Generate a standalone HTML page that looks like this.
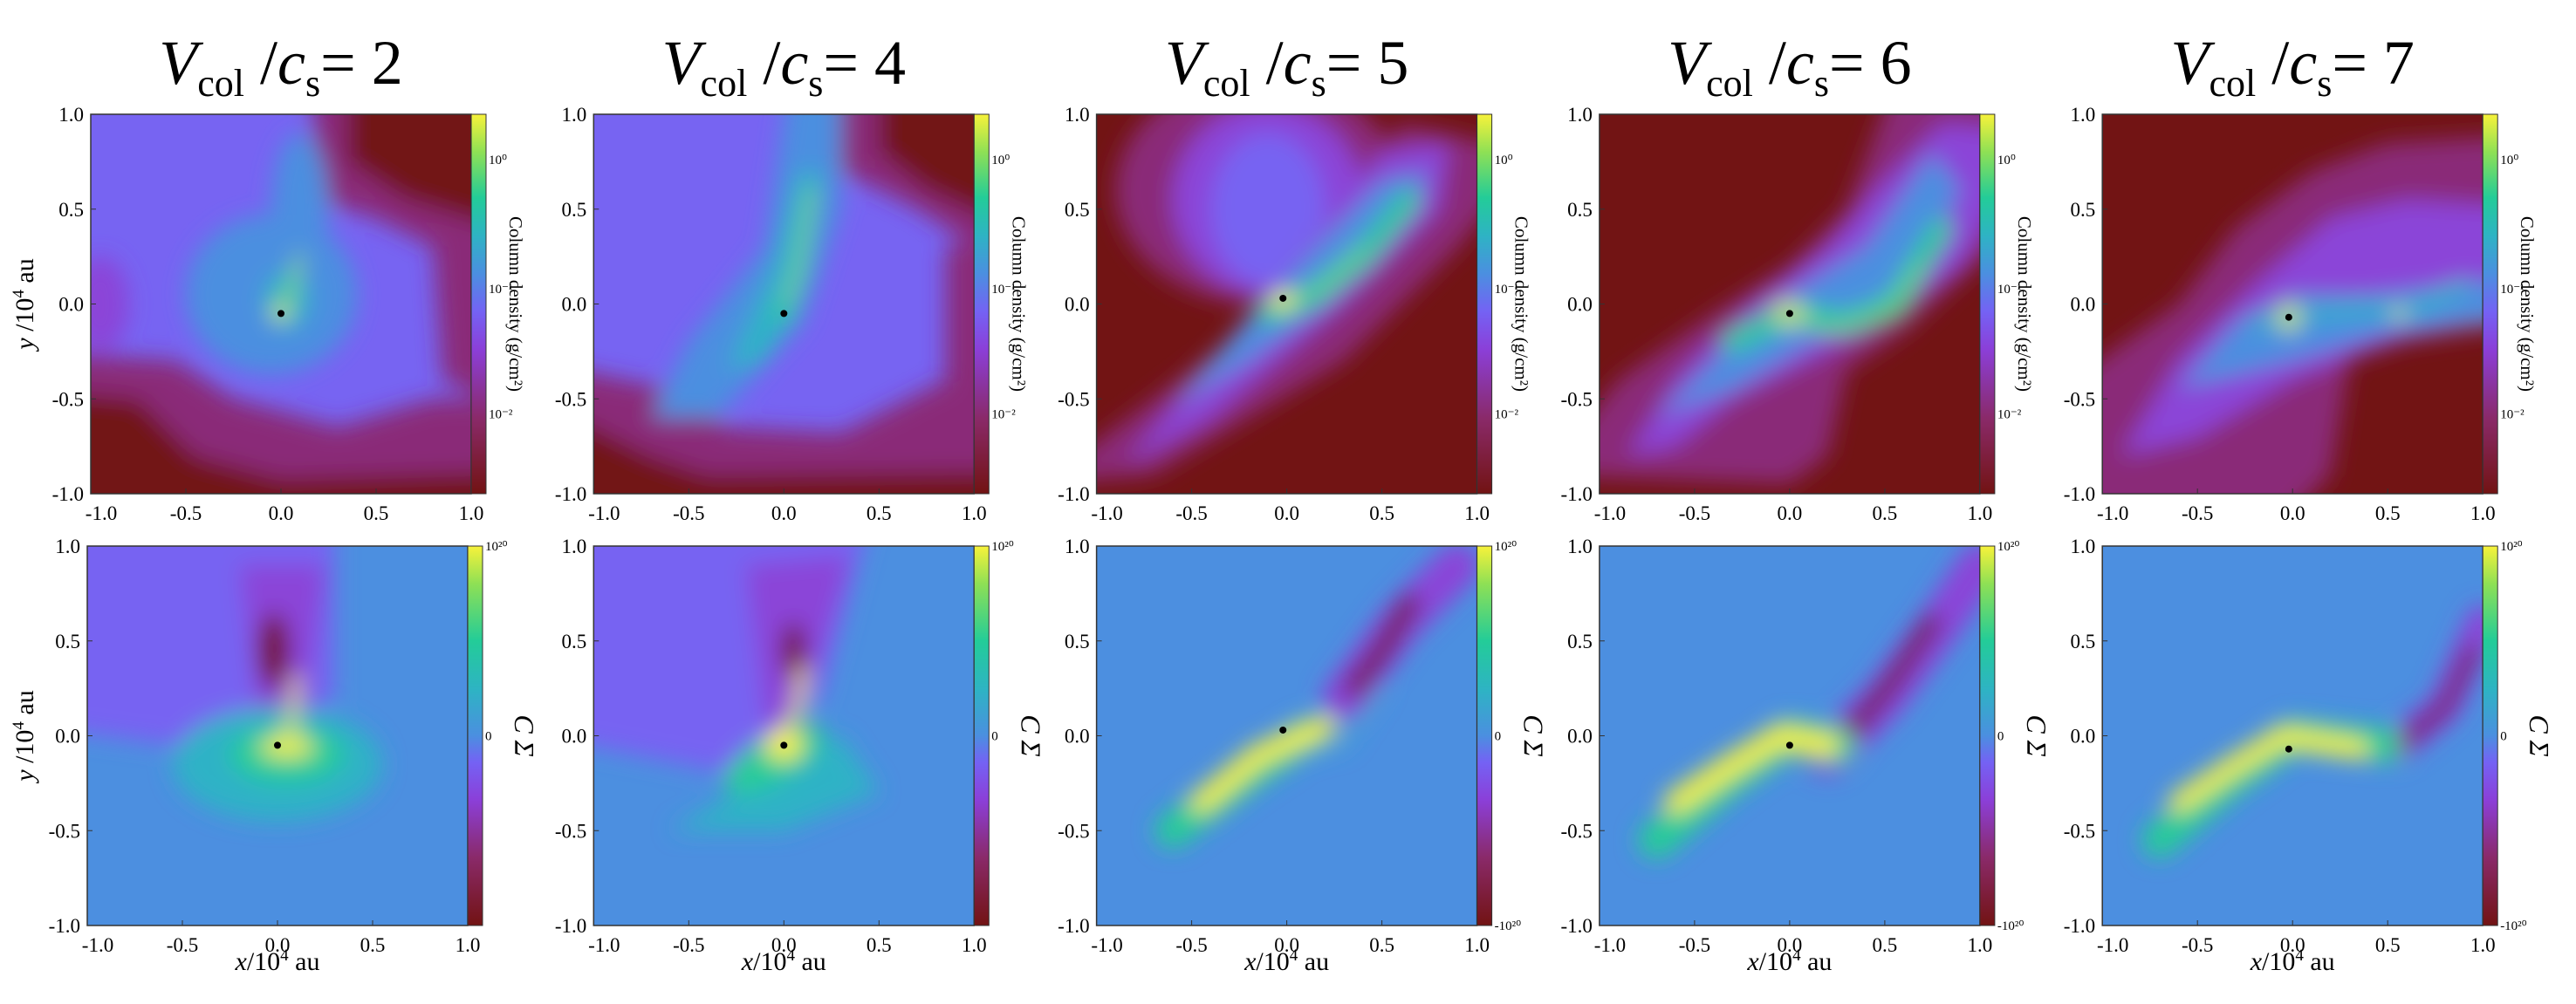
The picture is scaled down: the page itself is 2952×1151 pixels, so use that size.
<!DOCTYPE html>
<html><head><meta charset="utf-8"><style>
html,body{margin:0;padding:0;background:#fff;}
svg{display:block}
text{font-family:"Liberation Serif",serif;fill:#000}
</style></head><body>
<svg id="fig" width="2952" height="1151" viewBox="0 0 2952 1151" xmlns="http://www.w3.org/2000/svg">
<defs>
<filter id="blur" x="-20%" y="-20%" width="140%" height="140%"><feGaussianBlur stdDeviation="13"/></filter>
<linearGradient id="cmapTop" x1="0" y1="1" x2="0" y2="0">
<stop offset="0" stop-color="#721313"/><stop offset="0.2" stop-color="#8a2a6a"/><stop offset="0.38" stop-color="#8b3fd8"/><stop offset="0.48" stop-color="#7462f4"/><stop offset="0.58" stop-color="#4b8fe0"/><stop offset="0.68" stop-color="#2eb3c4"/><stop offset="0.78" stop-color="#23cc98"/><stop offset="0.9" stop-color="#8ee055"/><stop offset="1" stop-color="#f7f23a"/>
</linearGradient>
<linearGradient id="cmapBot" x1="0" y1="1" x2="0" y2="0">
<stop offset="0" stop-color="#721313"/><stop offset="0.18" stop-color="#8a2a6a"/><stop offset="0.33" stop-color="#8b3fd8"/><stop offset="0.43" stop-color="#7462f4"/><stop offset="0.5" stop-color="#4b8fe0"/><stop offset="0.62" stop-color="#2eb3c4"/><stop offset="0.75" stop-color="#23cc98"/><stop offset="0.9" stop-color="#8ee055"/><stop offset="1" stop-color="#f7f23a"/>
</linearGradient>
</defs>
</svg>
<script>
const velocities = [2, 4, 5, 6, 7];
const tickValues = [-1.0, -0.5, 0.0, 0.5, 1.0];
const tickLabels = ["-1.0", "-0.5", "0.0", "0.5", "1.0"];
const topCbarTicks = ["10\u2070", "10\u207B\u00B9", "10\u207B\u00B2"];
const topCbarTickFrac = [0.88, 0.54, 0.21];
const botCbarTicks = ["10\u00B2\u2070", "0", "-10\u00B2\u2070"];
const botCbarTickFrac = [1.0, 0.5, 0.0];

const DR="#721414", MG="#8a2c78", PU="#8b45d8", VI="#7764f2", BL="#4c8fe0", CY="#2fb2c6", GR="#27cc98", LG="#8ee055", YE="#f7f23a";
const topBg = [VI, VI, DR, DR, DR];
const topFeatures = [
 [["p",MG,[[-1,-0.25],[-0.55,-0.3],[-0.25,-0.5],[0.3,-0.65],[0.8,-0.5],[1,-0.5],[1,-1],[-1,-1]]],
  ["p",DR,[[-1,-0.45],[-0.75,-0.5],[-0.45,-0.8],[0,-0.92],[1,-0.88],[1,-1],[-1,-1]]],
  ["p",MG,[[0.15,1],[1,1],[1,-0.6],[0.85,-0.4],[0.8,0.3],[0.5,0.45],[0.2,0.55]]],
  ["p",DR,[[0.35,1],[1,1],[1,0.35],[0.65,0.55],[0.35,0.75]]],
  ["e",PU,[-0.95,0.0,0.15,0.25,0]],
  ["e",BL,[-0.05,0.05,0.45,0.42,0]],["e",BL,[0.1,0.5,0.15,0.4,0]],
  ["e",CY,[0.03,0.02,0.12,0.15,0]],
  ["l",LG,[[-0.03,-0.05],[0.05,0.05],[0.1,0.25]],8],["e",YE,[0,-0.05,0.04,0.03,0]]],
 [["p",MG,[[-1,-0.3],[-0.6,-0.45],[-0.3,-0.65],[0.3,-0.68],[0.85,-0.4],[0.85,0.3],[1,0.4],[1,-1],[-1,-1]]],
  ["p",DR,[[-1,-0.5],[-0.7,-0.8],[-0.4,-0.9],[1,-0.88],[1,-1],[-1,-1]]],
  ["p",MG,[[0.3,1],[1,1],[1,0.1],[0.7,0.5],[0.3,0.7]]],
  ["p",DR,[[0.5,1],[1,1],[1,0.35],[0.75,0.6],[0.5,0.8]]],
  ["p",BL,[[-0.7,-0.6],[-0.35,-0.6],[0.1,-0.1],[0.3,0.5],[0.3,1],[0.05,1],[-0.1,0.3],[-0.5,-0.2]]],
  ["p",CY,[[-0.3,-0.35],[-0.1,-0.3],[0.12,0.1],[0.2,0.7],[0.08,0.7],[-0.05,0.2]]],
  ["l",LG,[[0,-0.05],[0.08,0.2],[0.15,0.6]],7],["e",GR,[0,-0.05,0.05,0.05,0]]],
 [["e",MG,[-0.15,0.6,0.75,0.6,0]],["e",PU,[-0.1,0.55,0.5,0.5,0]],["e",VI,[-0.1,0.5,0.3,0.4,0]],
  ["p",MG,[[-1,-0.95],[-0.7,-0.9],[0.3,-0.3],[0.9,0.3],[1,0.8],[0.6,0.95],[0.2,0.4],[-0.3,-0.2]]],
  ["p",PU,[[-0.85,-0.85],[-0.4,-0.6],[0.3,0.0],[0.8,0.5],[0.85,0.85],[0.5,0.8],[0.1,0.3],[-0.4,-0.3]]],
  ["p",BL,[[-0.6,-0.55],[-0.2,-0.3],[0.2,0.0],[0.6,0.4],[0.75,0.7],[0.5,0.65],[0.1,0.25],[-0.3,-0.2]]],
  ["l",GR,[[-0.1,-0.05],[0.15,0.05],[0.4,0.25],[0.65,0.55]],24],
  ["l",LG,[[0,0.02],[0.2,0.1],[0.4,0.3]],5],["e",YE,[-0.02,0.02,0.06,0.05,0]]],
 [["p",MG,[[-1,-0.9],[-0.9,-0.4],[-0.4,-0.05],[0.0,0.2],[0.3,0.5],[0.6,1],[1,1],[1,0.5],[0.6,-0.15],[0.3,-0.35],[0.2,-0.8],[0,-0.95]]],
  ["p",PU,[[-0.85,-0.8],[-0.6,-0.4],[-0.2,0.0],[0.2,0.3],[0.45,0.6],[0.8,0.95],[1,0.9],[0.9,0.2],[0.4,-0.15],[-0.3,-0.5],[-0.6,-0.75]]],
  ["p",BL,[[-0.7,-0.6],[-0.3,-0.2],[0,0.05],[0.4,0.3],[0.75,0.8],[0.9,0.6],[0.5,-0.05],[0.2,-0.15],[-0.3,-0.45]]],
  ["l",GR,[[-0.3,-0.2],[0,-0.05],[0.3,-0.1],[0.55,0.0],[0.8,0.4]],24],
  ["l",LG,[[-0.1,0.0],[0.2,-0.15],[0.5,-0.05],[0.7,0.2]],5],["e",YE,[0,-0.05,0.07,0.07,0]],["e",GR,[0,-0.05,0.04,0.04,0]]],
 [["p",MG,[[-1,-1],[-1,-0.5],[-0.6,0.0],[-0.3,0.4],[0.1,0.7],[0.5,0.85],[1,0.9],[1,-0.1],[0.6,-0.2],[0.3,-0.3],[0.2,-0.9],[-0.2,-1]]],
  ["p",PU,[[-0.9,-0.8],[-0.6,-0.3],[-0.2,0.1],[0.2,0.45],[0.6,0.55],[1,0.5],[1,0.0],[0.5,-0.2],[0,-0.4],[-0.5,-0.7]]],
  ["p",BL,[[-0.6,-0.45],[-0.3,-0.1],[0.0,0.05],[0.4,0.05],[1,0.15],[1,-0.05],[0.5,-0.15],[0,-0.3]]],
  ["l",CY,[[-0.2,-0.1],[0.1,-0.05],[0.4,-0.03],[0.6,-0.05],[0.9,0.1]],14],
  ["e",YE,[-0.02,-0.07,0.06,0.07,0]],["e",GR,[-0.02,-0.07,0.035,0.04,0]],["e",YE,[0.56,-0.05,0.03,0.03,0]]]
];
const botFeatures = [
 [["p",VI,[[-1,1],[0.3,1],[0.3,0.2],[-0.2,-0.1],[-1,0.05]]],
  ["p",PU,[[-0.2,0.9],[0.25,0.9],[0.15,0.1],[-0.1,0.05]]],["e",DR,[-0.02,0.45,0.08,0.2,0]],
  ["e",CY,[0.0,-0.15,0.55,0.3,0]],["e",GR,[0.05,-0.1,0.3,0.15,0]],
  ["e",YE,[0.05,-0.06,0.14,0.05,0]],["l",YE,[[0.05,-0.02],[0.08,0.1],[0.1,0.3]],8]],
 [["p",VI,[[-1,1],[0.5,1],[0.2,0.2],[-0.3,-0.2],[-1,0.0]]],
  ["p",PU,[[-0.2,0.9],[0.35,0.95],[0.1,0.1],[-0.1,0.05]]],["e",DR,[0.05,0.45,0.06,0.15,0]],
  ["p",CY,[[-0.6,-0.5],[0.1,-0.1],[0.3,0.0],[0.5,-0.3],[0,-0.5]]],["e",GR,[-0.05,-0.12,0.3,0.12,-30]],
  ["e",YE,[0.0,-0.05,0.1,0.08,0]],["l",YE,[[0,0],[0.08,0.15],[0.1,0.35]],9]],
 [["l",PU,[[0.3,0.2],[0.6,0.6],[0.9,0.9]],50],["l",DR,[[0.35,0.25],[0.5,0.45],[0.65,0.7]],20],
  ["l",GR,[[-0.6,-0.5],[-0.2,-0.2],[0.1,0.0]],40],["l",YE,[[-0.45,-0.35],[-0.15,-0.1],[0.2,0.05]],24],
  ["l",CY,[[0.05,-0.1],[0.3,-0.05],[0.5,0.25]],6]],
 [["l",PU,[[0.2,-0.1],[0.5,0.2],[0.8,0.6],[1,0.9]],50],["l",DR,[[0.1,-0.1],[0.35,0.05],[0.55,0.3],[0.75,0.6]],18],
  ["l",GR,[[-0.7,-0.55],[-0.35,-0.25],[0.0,0.0],[0.25,-0.05]],42],["l",YE,[[-0.6,-0.35],[-0.3,-0.15],[-0.05,0.0],[0.2,-0.05]],26]],
 [["l",PU,[[0.55,-0.05],[0.8,0.15],[1,0.6]],38],["l",DR,[[0.6,-0.02],[0.8,0.15],[0.95,0.45]],14],
  ["l",GR,[[-0.7,-0.55],[-0.35,-0.25],[0.0,0.0],[0.5,-0.05]],40],["l",YE,[[-0.6,-0.35],[-0.3,-0.15],[-0.05,0.0],[0.35,-0.07]],22],
  ["e",MG,[0.57,-0.05,0.03,0.03,0]]]
];
const starPos = [[0,-0.05],[0,-0.05],[-0.02,0.03],[0,-0.05],[-0.02,-0.07]];

const NS="http://www.w3.org/2000/svg";
const svg=document.getElementById('fig');
function mk(tag,attrs,parent){const e=document.createElementNS(NS,tag);for(const k in attrs)e.setAttribute(k,attrs[k]);(parent||svg).appendChild(e);return e;}
const PW=436, PH=435, STEP=576.3;
function panelX(i){return 104+STEP*i;}
function ext(v){return Math.abs(v)>=0.999?v*1.3:v;}
function drawFeatures(g,feats,sx,sy){
  feats.forEach(f=>{
    let e;
    if(f[0]==="p"){e=mk('polygon',{points:f[2].map(p=>sx(ext(p[0]))+','+sy(ext(p[1]))).join(' '),fill:f[1]},g);}
    else if(f[0]==="e"){const a=f[2];e=mk('ellipse',{cx:sx(a[0]),cy:sy(a[1]),rx:a[2]*PW/2,ry:a[3]*PH/2,fill:f[1],transform:'rotate('+a[4]+' '+sx(a[0])+' '+sy(a[1])+')'},g);}
    else {e=mk('polyline',{points:f[2].map(p=>sx(p[0])+','+sy(p[1])).join(' '),fill:'none',stroke:f[1],'stroke-width':f[3],'stroke-linecap':'round','stroke-linejoin':'round'},g);}
    
    
  });
}
function drawPanel(i,row){
  const X0=panelX(i)-(row===1&&i===0?4:0), Y0=row===0?131:626;
  const sx=v=>X0+(v+1)/2*PW, sy=v=>Y0+(1-v)/2*PH;
  const pg=mk('g',{});
  
  
  const cid='clip'+row+i;
  const cp=mk('clipPath',{id:cid},pg);mk('rect',{x:X0,y:Y0,width:PW,height:PH},cp);
  const g=mk('g',{'clip-path':'url(#'+cid+')'},pg);
  mk('rect',{x:X0,y:Y0,width:PW,height:PH,fill:row===0?topBg[i]:BL},g);
  const fg=mk('g',{filter:'url(#blur)'},g);
  drawFeatures(fg,row===0?topFeatures[i]:botFeatures[i],sx,sy);
  const s=starPos[i];
  const star=mk('circle',{cx:sx(s[0]),cy:sy(s[1]),r:4,fill:'#000'},pg);
  
  
  mk('rect',{x:X0,y:Y0,width:PW,height:PH,fill:'none',stroke:'#333','stroke-width':1.5},pg);
  const cb=mk('rect',{x:X0+PW,y:Y0,width:17,height:PH,fill:row===0?'url(#cmapTop)':'url(#cmapBot)',stroke:'#333','stroke-width':1},pg);
  
  
  const ct=row===0?topCbarTicks:(i<2?botCbarTicks.slice(0,2):botCbarTicks);
  const cf=row===0?topCbarTickFrac:botCbarTickFrac;
  ct.forEach((t,k)=>{
    const ty=Y0+(1-cf[k])*PH;
    const tt=mk('text',{x:X0+PW+20,y:ty+5,'font-size':15},pg);tt.textContent=t;
    
    
  });
  const lx=X0+PW+(row===0?44:54), ly=Y0+PH/2;
  const cl=mk('text',{x:lx,y:ly,'font-size':row===0?21:32,'text-anchor':'middle','font-style':row===0?'normal':'italic',transform:'rotate(90 '+lx+' '+ly+')'},pg);
  cl.textContent=row===0?'Column density (g/cm²)':'C Σ';
  
  
  tickValues.forEach((v,k)=>{
    const tx=mk('text',{x:sx(v)+(k===0?12:0),y:Y0+PH+30,'font-size':23,'text-anchor':'middle'},pg);tx.textContent=tickLabels[k];
    
    
    const ty=mk('text',{x:X0-8,y:sy(v)+8,'font-size':23,'text-anchor':'end'},pg);ty.textContent=tickLabels[k];
    
    
    mk('line',{x1:sx(v),y1:Y0+PH,x2:sx(v),y2:Y0+PH-6,stroke:'#333'},pg);
    mk('line',{x1:X0,y1:sy(v),x2:X0+6,y2:sy(v),stroke:'#333'},pg);
  });
  if(row===1){
    const xl=mk('text',{x:X0+PW/2,y:1112,'font-size':30,'text-anchor':'middle'},pg);
    xl.innerHTML='<tspan font-style="italic">x</tspan>/10<tspan font-size="19" dy="-11">4</tspan><tspan dy="11"> au</tspan>';
    
    
  }
  if(i===0){
    const yx=38, yy=Y0+PH/2;
    const yl=mk('text',{x:yx,y:yy,'font-size':30,'text-anchor':'middle',transform:'rotate(-90 '+yx+' '+yy+')'},pg);
    yl.innerHTML='<tspan font-style="italic">y</tspan> /10<tspan font-size="19" dy="-11">4</tspan><tspan dy="11"> au</tspan>';
    
    
  }
}
velocities.forEach((v,i)=>{
  const cx=panelX(i)+PW/2;
  const t=mk('text',{x:cx,y:96,'font-size':72,'text-anchor':'middle'});
  t.innerHTML='<tspan font-style="italic">V</tspan><tspan font-size="44" dy="14">col</tspan><tspan dy="-14"> /</tspan><tspan font-style="italic">c</tspan><tspan font-size="44" dy="14">s</tspan><tspan dy="-14">= '+v+'</tspan>';
  
  
  drawPanel(i,0);drawPanel(i,1);
});
</script>
</body></html>
